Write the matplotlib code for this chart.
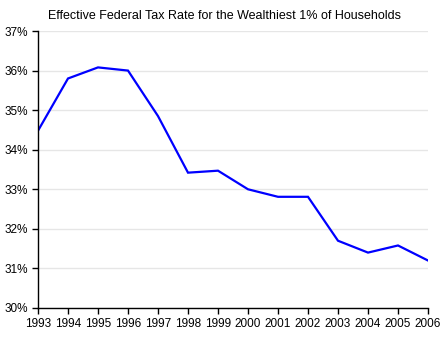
import numpy as np
import matplotlib.pyplot as plt
from matplotlib.ticker import FuncFormatter

# data
years = [1993, 1994, 1995, 1996, 1997, 1998, 1999, 2000, 2001, 2002, 2003, 2004, 2005, 2006]
tax_rate = [34.48, 35.80, 36.08, 36.00, 34.85, 33.42, 33.47, 33.00, 32.81, 32.81, 31.70, 31.40, 31.58, 31.20]
title = "Effective Federal Tax Rate for the Wealthiest 1% of Households"

plt.rcParams['font.family'] = ['Liberation Sans', 'DejaVu Sans']

fig = plt.figure(figsize=(4.48, 3.4), dpi=100)
ax = fig.add_axes([38 / 448, 32 / 340, 390 / 448, 277 / 340])

ax.plot(years, tax_rate, color='#0000ff', linewidth=1.6, solid_joinstyle='miter')

ax.set_xlim(1993, 2006)
ax.set_ylim(30, 37)
ax.set_xticks(years)
ax.set_xticklabels([str(y) for y in years])
ax.set_yticks(np.arange(30, 38, 1))
ax.yaxis.set_major_formatter(FuncFormatter(lambda v, p: "%d%%" % v))

ax.grid(True, axis='y', color='#e6e6e6', linewidth=1.0)
ax.set_axisbelow(True)
for s in ['top', 'right']:
	ax.spines[s].set_visible(False)
ax.spines['left'].set_linewidth(1.0)
ax.spines['bottom'].set_linewidth(1.0)
ax.tick_params(axis='both', labelsize=8.5, length=4, width=1, pad=3, colors='black')

fig.text(224 / 448, 1 - 16 / 340, title, ha='center', va='center', fontsize=9)

plt.savefig("out.png", dpi=100)
